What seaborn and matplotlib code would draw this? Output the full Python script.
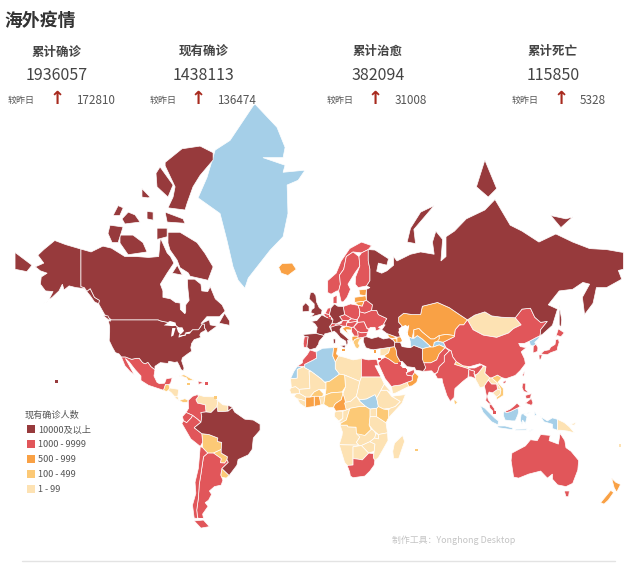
import numpy as np
import pandas as pd
import matplotlib
matplotlib.use("Agg")
import matplotlib.pyplot as plt
import seaborn as sns

sns.set_theme(style="white")
plt.rcParams['font.family'] = ['Noto Sans CJK SC', 'DejaVu Sans']

# 顶部数字
stat_titles = ['累计确诊', '现有确诊', '累计治愈', '累计死亡']
stat_values = ['1936057', '1438113', '382094', '115850']
stat_deltas = ['172810', '136474', '31008', '5328']

legend_labels = ['10000及以上', '1000 - 9999', '500 - 999', '100 - 499', '1 - 99']
tier_colors = ['#973a3c', '#e1565a', '#f9a145', '#fcc976', '#fde2b3']
nodata_color = '#a5cfe8'

# 国家轮廓 (经度,纬度)
dark_shapes = {
    'usa': "-124.7,48.4 -123,49 -95.2,49 -94.6,48.7 -92,48.3 -89.6,48 -88.4,48.3 -84.9,46.9 -84.5,46.5 -83.6,46.1 -82.5,45.3 -82.1,43.6 -83,42.2 -79,42.8 -79,43.3 -76.8,43.6 -75,45 -71.5,45 -70.3,46.2 -69.2,47.4 -68,47.3 -67.8,45.7 -67,44.9 -70,43.7 -70.7,42.7 -70,41.7 -74,40.7 -75.5,39 -76,37 -75.5,35.3 -78,33.9 -81,32 -81.4,30.5 -80,26.8 -80.4,25.2 -81.8,26 -82.8,28 -84,30 -85.5,29.7 -89,30.3 -89.5,29.2 -91,29.3 -94,29.6 -97.2,27.7 -97.2,25.9 -99.5,27.5 -101.4,29.8 -103,29 -104.5,29.6 -106.5,31.8 -108.2,31.8 -111,31.3 -114.8,32.5 -117.1,32.5 -118.5,34 -120.6,34.6 -122.4,37.2 -124.3,40.3 -124,44 -124,46.3",
    'alaska': "-141,69.6 -141,60.3 -139,60 -137.5,58.9 -135.5,59.7 -133,57 -130,56 -130.5,54.8 -133,55.5 -135.5,57.5 -139,59.7 -144,60 -148,60.5 -151,59.3 -152,61 -154,59 -158,57 -163,54.8 -160,56.2 -157.5,58.8 -162,59 -165,61 -164.5,63 -161,64 -165,64.6 -168,65.6 -163,66.5 -166.5,68.3 -163,69.5 -156.5,71.3 -150,70.5",
    'canada': "-141,69.6 -135,69 -128,70.2 -123,69.8 -115,68 -108,68 -101,67.8 -95,68 -94,71.8 -90,68.8 -88,68 -86,66.5 -90,64 -94,61 -92.5,59 -92.5,57 -88,56.5 -85,55.3 -82.3,55.1 -82.2,52.9 -79.5,51.3 -79,52 -79,54.5 -77,56 -77.8,60 -78,62.4 -73.7,62.4 -70,61 -69.5,59 -66,58.8 -64.5,60.3 -61.5,56.5 -57.5,54.5 -55.7,52.3 -59,50.2 -66.5,50.2 -70,47.5 -65,49 -64.5,47 -60.5,46.5 -66,43.7 -67,44.9 -67.8,45.7 -68,47.3 -69.2,47.4 -70.3,46.2 -71.5,45 -75,45 -76.8,43.6 -79,43.3 -79,42.8 -83,42.2 -82.1,43.6 -82.5,45.3 -83.6,46.1 -84.5,46.5 -84.9,46.9 -88.4,48.3 -89.6,48 -92,48.3 -94.6,48.7 -95.2,49 -123,49 -127,51 -130.5,54.8 -130,56 -133,57 -135.5,59.7 -137.5,58.9 -139,60 -141,60.3",
    'baffin': "-89.5,72.8 -82.4,72.8 -72.3,70.9 -67.6,68.7 -62.8,65.6 -65.8,62.1 -76.4,63.2 -77.6,64.1 -82.4,65.4 -84.1,67.2 -88.3,69.4 -89.5,70.8",
    'victoria': "-117.9,72.3 -110.2,72.3 -104.3,70.9 -101.9,69 -113.1,68.4 -117.9,70.8",
    'banks': "-123.8,74 -116.1,73.7 -119,70.9 -122.6,70.9 -125,72.6",
    'melville': "-116.7,75 -113,76 -109,75.6 -106,74.5 -115,74.2",
    'patrick': "-122,75.5 -119,76.9 -116,76.6 -118,75.5",
    'ellesmere': "-91.2,81.6 -81.2,82.7 -70.5,82.9 -62.8,82.4 -62.8,81.8 -70.5,80.4 -74.7,79.2 -78.2,77.2 -79.4,76.3 -89.5,76.6 -86.5,78 -85.3,79.2 -91.2,81.3",
    'axel': "-94.2,81.2 -86.5,79.4 -89.5,78 -96,79.2 -96.6,80.6",
    'devon': "-91.2,76 -80.6,75 -79.4,74.3 -90,74.5",
    'amund': "-104.9,79 -100.1,78 -101.3,77.9 -104.9,78",
    'bathurst': "-101.9,76.1 -98.3,76 -98.3,74.8 -101.9,75",
    'somerset': "-96,73.5 -90,73.5 -90,72 -96,71.5",
    'southampton': "-87,64 -81,63.5 -84,66",
    'newfoundland': "-59.3,47.7 -53,46.8 -53,48.5 -56,51.5",
    'vancouver': "-128,50.7 -123.5,48.4 -125,50.5",
    'russia': "28,59.5 30,60 28,60.5 30,62 30,65 29,67 29,69.5 33,69.4 41,67.5 40,66 35,66.5 34,64.5 37,64 40,64.6 44,66 44,68 46,67 54,68.5 60,69 68,68.5 67,71 69,73 73,71.5 72,67 75,68 75,72 80,73 87,75 98,76.3 104,77.7 113,74 120,73 130,71 140,72.5 150,71 160,69.7 170,69.5 178,69 180,68.9 180,65 177,64.7 179,62.4 170,60 164,60 163,57.5 162,55 157,51 155.7,57 160,61 156,61.5 150,59.5 142,59 135.5,54.5 141,53 138,46.8 132,43 130.7,42.5 131,45 135,48.4 131,48 127.5,50 125,53.3 120,53 116,49.8 108,50 102,50.5 98,52 92,50.8 87.7,49 83,51 77,53.5 70,55.3 61,54 60,51 55,51 50,51.5 47,50 47,48 49,46.5 48,45.5 47,44 48,42 46,41.8 40,43.4 37,45 39,47 38,47.1 40,49.5 35,51 34,52.5 31,52.5 31.5,54.5 28,56",
    'chukotka': "-180,68.9 -175,67.5 -170,66 -173,64.4 -180,65",
    'novaya': "52,71 57,70.7 56,73.3 68,76.9 60,76 54,73.5",
    'severnaya': "93,79.2 98,81.8 105,79 100,78",
    'newsib': "137,75.5 146,75 150,75.3 143,73.6",
    'sakhalin': "142,54.3 143.5,49 143,46 142,47 142,50",
    'turkey': "26,40 26.3,41.8 28,42 31,41.2 35,42 38,41 41.5,41.5 43.6,40.5 44.7,39.5 44.6,37.5 42,37.2 38,36.7 36,36.5 32,36 30,36.3 27.5,37",
    'iran': "44.7,39.5 48,39.5 49,37.5 54,37 56,38 61,36.5 61,31.5 63,27 61.5,25 57,25.7 56.5,27 52,27.5 49,30.3 48,30 46,33 45.5,36 44.6,37.5",
    'brazil': "-51.5,4.4 -50,1.7 -44,-2.5 -39,-3 -35,-5.5 -35,-9 -39,-13.5 -39.7,-20 -42,-23 -48,-25.5 -48.7,-28.5 -53.3,-33.7 -57.6,-30.2 -53.8,-27 -54.6,-25.6 -54.3,-24 -58,-22 -58,-20 -57.7,-16 -60.3,-15.5 -60,-13.5 -65.3,-11.5 -69.5,-11 -74,-7.5 -70,-4.3 -69.5,-1 -70,1.5 -67,1.8 -64,1.5 -60.5,5 -60,2 -57,2 -54,2.3",
    'guiana': "-54,5.7 -52,4.9 -51.5,4.4 -54,2.3",
    'france': "-4.7,48.4 -1.5,48.7 1.5,50.9 4.2,50 8.2,49 7.5,47.5 6,46.3 7.5,44 3.2,43.2 3,42.5 -1.8,43.4 -1.2,46 -2.5,47.3",
    'spain': "-9.3,43 -1.8,43.4 3,42.5 0,40 -0.5,38.5 -2,36.8 -5.5,36 -7.3,37.2 -7,39.5 -6.5,42 -8.8,42",
    'uk': "-5.5,50 1.3,51.2 1.7,52.7 0,53.5 -1.6,55.5 -2,57.6 -3.5,58.6 -5.2,58.5 -6,56.5 -3,54.8 -3,53.4 -4.5,52.8 -5,51.7 -3,51.3",
    'ireland': "-10,52 -6,52.2 -6,54 -8,55.2 -10,54",
    'germany': "6,51 7,53.5 9,54.8 11,54 14.2,53.9 15,51 12,50.3 13.8,48.7 10,47.4 7.5,47.5 8.2,49",
    'italy': "7.5,44 6.8,46 10,46.8 12,47 13.7,46.5 12.3,45.2 12.5,44 16,41.8 18.5,40 16.8,40.5 17,39 16,38 15.7,40 12.5,41.5 10.3,43.5 8.8,44.4",
    'sicily': "12.5,38 15.6,38.2 15,36.7",
    'sardinia': "8.2,41 9.7,41 9.5,39.1 8.5,39",
}
red_shapes = {
    'china': "73.5,39.5 80,42 80.5,45 83,47 85.5,47 87.7,49 91,45 97,42.7 105,41.7 112,43.6 115,45.5 119.5,47 116,49.8 120,53 125,53.3 127.5,50 131,48 135,48.4 131,45 130.7,42.5 128,41.5 124.3,40 121.5,39 118,39 119,37.5 122.5,37 119.5,35 121.5,31.5 122,29 119,25.5 116,22.8 110.5,21 108,21.6 105.5,23 102,21.5 101,21.5 98,24 98.7,27.5 95,29 89,27.5 85,28 81,30.2 79,32.5 78,35.5 75,37",
    'hainan': "108.7,19.3 110.5,20 110.5,18.8 109,18.3",
    'taiwan': "120.2,23 121.5,25.2 121,22",
    'skorea': "126.7,37.8 128.3,38.6 129.4,37 129.2,35.2 126.5,34.4 126.6,36.7",
    'honshu': "131,34 133,35.5 136,36 137,37.3 139.5,38.5 140,40.7 141.5,41 142,39.5 141,37 140.8,35.7 137,34.6 135,33.6",
    'hokkaido': "140,42 141.5,45.4 145,43.7 143,42 141,42.5",
    'kyushu': "130,33.5 132,33.5 131,31.2 130.2,31.3",
    'saudi': "34.8,29.4 37,31.5 39,32.3 41,31.5 44.7,29.2 47,29.2 48.5,28 50,26.5 51.5,24.5 52,23 55,22.5 55,20 52,19 48,17.5 44,17 42.8,16.5 39,21 37,25",
    'uae': "51.5,24.2 56,26 56.4,24.5 55,22.5 52,23",
    'pakistan': "61,29.5 66,29.5 69.5,31 71,34 74.5,37 77,35.5 74,33 74,30 71,27.5 70,24.5 68,23.7 66.5,25.3 61.5,25 63,27",
    'india': "74,33 77,35.5 78,35.5 79,32.5 81,30.2 80,28.7 88,26.5 89,26.8 92,26.8 96,28.5 97,27.5 94,24 92.5,23 91.5,24 92,25 88.5,26 88,21.6 87,21 85,19.5 80.3,15.5 80,13 79.8,10.3 77.5,8 75.5,11.5 73,19 72.7,21 70,21 68.5,23.5 70,24.5 71,27.5 74,30",
    'bangladesh': "88.5,26 92,25 91.5,24 92.5,21 90,22 88.5,22",
    'thailand': "97.7,17 100,20.2 102,18 105,18 105.5,15 102.5,13 100.5,13.5 99.5,11 100,9 102,6 100.5,6.6 98.5,8.5 99,11",
    'malaya': "100.5,6.6 102,6 103.5,4 104.3,1.5 103,2 101,4",
    'sabah': "109.6,2 111,1.5 113,2 115,3 117.5,4.2 119,5.2 117,7 115.5,5.5 113,3.5 111.3,2.7",
    'luzon': "120.3,18.5 122.2,18.5 122,15 124,13 121,13.8 120,16",
    'mindanao': "122,7 125.5,9.8 126.5,7 125.5,5.7",
    'visayas': "122,11.5 125.5,12.5 125,10 122.5,9.5",
    'morocco': "-13,27.7 -8.7,27.7 -8.7,28.7 -3.5,31 -1.5,32 -1.9,35 -5.5,35.9 -7,33.8 -9.8,31 -10,29.5",
    'egypt': "25,31.7 29,31 34,31.3 35,28 33,28 36.5,22 25,22",
    'southafrica': "16.5,-28.6 20,-28.4 20,-25 23,-25.3 25.5,-25.7 29.3,-22 32,-22.3 32,-24.5 32.9,-26 32.5,-28.5 30,-31.5 27,-34 20,-34.8 18.4,-34 18,-32",
    'australia': "114,-22 113.5,-26 115,-34.5 118,-35 124,-33 131,-31.5 135,-35 138,-33 138,-35.5 141,-38.2 146,-39 150,-37.5 153,-31 153.5,-26 149,-21 146,-19 145.3,-15 142.5,-10.8 141.5,-17 136,-15 136.7,-12 131,-11.5 129,-15 125,-14.5 122,-18",
    'tasmania': "145,-41 148,-41 147.5,-43.5 146,-43.5",
    'mexico': "-117.1,32.5 -114.8,32.5 -111,31.3 -108.2,31.8 -106.5,31.8 -104.5,29.6 -103,29 -101.4,29.8 -99.5,27.5 -97.2,25.9 -97.8,22.5 -96,19 -94.5,18.2 -91.5,18.5 -90.5,21 -87,21.5 -88,18.3 -89,17.8 -91,17.8 -92.2,14.5 -96,15.7 -101,17.3 -105.5,20 -105.5,22.5 -109,26 -112.5,30 -114.7,31.7 -113,29 -110,24 -109.5,23 -112,25 -115,28",
    'dominican': "-71.7,19.8 -68.4,18.7 -71.5,17.8",
    'colombia': "-77.5,8.6 -75,11 -72,12 -71.5,11 -73,9 -72,7 -67.5,6 -67,1.8 -70,1.5 -69.5,-1 -70,-4.3 -72,-2.5 -75,-0.2 -78.8,1.5 -77.3,4",
    'ecuador': "-78.8,1.5 -75,-0.2 -75.5,-1.5 -78.5,-4.6 -80.3,-3.4 -81,-1",
    'peru': "-80.3,-3.4 -78.5,-4.6 -75.5,-1.5 -75,-0.2 -72,-2.5 -70,-4.3 -74,-7.5 -69.5,-11 -69,-16 -70.4,-18.3 -76,-14 -81.3,-5",
    'argentina': "-66,-22 -62.6,-22 -58,-25 -58.5,-27.2 -56,-27.4 -54.6,-25.6 -53.8,-27 -57.6,-30.2 -58.3,-33.5 -57,-36 -58,-38.3 -62,-39 -65,-41 -63.7,-42.5 -65.5,-45 -67.5,-46 -65.8,-47.5 -69,-50.5 -68.4,-52.3 -72,-52 -72.5,-49 -71.5,-44 -71,-38 -70,-33 -68.5,-24",
    'chile': "-70.4,-18.3 -69,-19 -66,-22 -68.5,-24 -70,-33 -71,-38 -71.5,-44 -72.5,-49 -72,-52 -68.4,-52.3 -74,-52 -75,-47 -73,-42 -73.5,-37 -71.5,-30",
    'fuego': "-68.5,-52.7 -65,-55 -70,-55.5 -74,-53",
    'portugal': "-8.8,42 -6.5,42 -7,39.5 -7.3,37.2 -9,37 -9.5,38.8",
    'norway': "5,58.5 7,58 10.5,59 11.5,59 12.5,61 12,63.5 14.5,65 16,68 20,69 25,68.8 29,69.5 31,70.3 25,71 18,69.7 13,67 10,64 5,62",
    'sweden': "11.5,59 13,55.5 14.3,55.5 16.5,57 18.5,59.5 17,61 21,64 24,65.8 23.5,68 20,69 16,68 14.5,65 12,63.5 12.5,61",
    'finland': "24,65.8 21.5,63 21.3,61 23,60 28,60.5 30,62 30,65 29,67 29,69.5 25,68.8 23.5,68",
    'poland': "14.2,53.9 18.5,54.8 23,54.3 24,52.5 23.8,50.5 22.5,49 19,49.4 15,51",
    'belarus': "23.8,52 24,52.5 23,54.3 25.5,54 26.5,55.7 28,56 31.5,54.5 31,52.5 27,51.5",
    'ukraine': "22.5,49 23.8,50.5 24,52 27,51.5 31,52.5 34,52.5 35,51 40,49.5 38,47.1 35,46 36.5,45.3 33.5,44.5 33,46 30.5,46 29,45.3 28,46 26.5,48.2 23,48",
    'romania': "20.3,46.1 23,48 26.5,48.2 28.2,45.5 29.5,45 28.5,43.8 25,43.7 22.7,44.2",
    'bulgaria': "22.7,44.2 25,43.7 28.5,43.8 28,42 26.3,41.8 23,41.4",
    'serbia': "19,46 20.3,46.1 22.7,44.2 23,42.3 20.7,42.3 19.2,44",
    'hungary': "16,46.5 16.2,47.7 18,48 22,48.4 22.5,48.1 20.3,46.1 19,46",
    'slovakia': "17,48.6 19,49.4 22.5,49 22,48.4 18,48",
    'czech': "12,50.3 15,51 19,49.6 17,48.6 13.8,48.7",
    'austria': "9.6,47.3 13,47.6 13.8,48.7 17,48.6 16.2,47.7 16,46.5 13.7,46.5 12,47 10,46.8",
    'swiss': "6,46.3 7.5,47.5 9.6,47.5 10,46.8 8,46",
    'belgium': "2.5,51 3.5,51.4 6,51 6,49.6 4.2,50",
    'netherlands': "3.5,51.4 6,51 7,53.5 5,53.3",
    'denmark': "8.2,55 8.2,57 10.5,57.7 10.5,55",
}
orange_shapes = {
    'iceland': "-24,65.5 -22,66.4 -16,66.5 -13.6,65 -18.5,63.4 -22.5,64",
    'kazakhstan': "47,48 49,46.5 51,45 53,46.8 52,42.5 51,44.5 53,42 55,41.3 56,45 59,45.5 61,44 66,41 68,41 71,42.5 75,43 80,42.5 80.5,45 83,47 85.5,47 87.7,49 83,51 77,53.5 70,55.3 61,54 60,51 55,51 50,51.5 47,50",
    'uzbekistan': "56,45 59,45.5 61,44 66,41 68,41 71,42.5 71,41 73,40.8 68,39.5 67.5,37.3 65,37.3 66,37.5 61,41 58,42.5 56,41.3",
    'kyrgyz': "71,42.5 75,43 80,42.5 80,42 73.5,39.5 70,40 71,41",
    'afghanistan': "61,36.5 65,37.3 67.5,37.3 71,38.3 74.5,37 71,34 69.5,31 66,29.5 61,29.5 61,31.5",
    'iraq': "38.8,33.4 41,34.5 42,37.2 44.6,37.5 45.5,36 46,33 48,30 47,29.2 44.7,29.2 41,31.5 39,32.3",
    'oman': "52,19 55,20 55,22.5 56.4,24.5 58.8,22.4 57.7,19 55,17 53,16.7",
    'georgia': "40,43.4 46,41.8 43.6,41.2 41.5,41.5",
    'armenia': "43.6,41.2 46,41 46,39 44.7,39.5 43.6,40.5",
    'azerbaijan': "46,41.8 48,42 50,40.2 48,39.5 46,39 46,41",
    'tunisia': "8.5,37 11,37 10.2,34 11.5,33 9.5,30 8,33",
    'cameroon': "8.5,4.5 9,6 10,7 13,9 14,12.5 15,10 15.5,7.5 15,7 16,3 9.8,2.3",
    'ghana': "-3,5 1,6 0,11 -3,11",
    'ivory': "-8,4.4 -3,5 -3,11 -5.5,10.5 -8,10.5",
    'latvia': "21,55.3 21,57 24,57.2 27.5,57.5 28,56 26.5,55.7",
    'lithuania': "21,55.3 26.5,55.7 25.5,54 23,54.3",
    'estonia': "24,57.8 23.5,59.3 28,59.5 27.5,57.5",
    'croatia': "13.7,45.5 16,46.5 19,46 19.2,44.9 16,45 17.5,43 15,44.5",
    'albania': "19.4,42 20.7,42.3 23,42.3 23,41.4 21,40.8 20,39.7 19.4,40.5",
    'nz_north': "173,-35 175.5,-37 178.3,-38 176,-41.5 174.5,-39.5",
    'nz_south': "172.5,-40.7 174.2,-41.7 171,-45 168.5,-46.6 166.5,-46",
}
light_shapes = {
    'niger': "4,15 3.5,11.7 7,13 13.5,13.5 15.5,16.5 15,23 12,23.5 6,19.5 3.2,19 4,19",
    'nigeria': "2.7,6.3 3.5,11.7 7,13 13.5,13.5 14,12.5 13,9 10,7 9,6 8.5,4.5 6,4.3",
    'burkina': "-5.5,10.5 -3,11 2,11 2.5,12.5 0,15 -3,13.5",
    'drc': "12.3,-6 13,-4.7 16,-3 18,3.5 18.5,4 24,5 27.5,5 30,3.5 30,-1 29.5,-6 30.7,-8.5 27,-12 22,-11 21.8,-7.2 17,-7 16.5,-6",
    'kenya': "35,5 38,3.5 41,3 41,-1.7 39.5,-4.6 34,-1 34,3.9",
    'bolivia': "-69.5,-11 -65.3,-11.5 -60,-13.5 -60.3,-15.5 -57.7,-16 -58,-20 -62.6,-22 -66,-22 -69,-19 -69,-16",
    'paraguay': "-62.6,-22 -58,-20 -58,-22 -54.3,-24 -54.6,-25.6 -56,-27.4 -58.5,-27.2 -58,-25",
    'uruguay': "-58.3,-33.5 -57.6,-30.2 -53.3,-33.7 -55,-35 -58,-34.5",
    'guatemala': "-92.2,14.5 -91,17.8 -89,17.8 -88.5,15.8 -89.3,14.4 -90.5,13.8",
    'panama': "-83,8.5 -79.5,9.6 -77.5,8.6 -78,7.5 -80.5,7.4",
    'cuba': "-85,22 -80,23.2 -74.2,20.2 -77.5,19.9 -78.5,21.5 -82,22.5",
    'greece': "20,39.7 21,40.8 23,41.4 26.3,41.8 24,40.7 23,39 24,38 23,36.5 21.5,37",
    'nepal': "80,28.7 81,30.2 85,28 88,27.5 88,26.5",
    'vietnam': "102,21.5 105.5,23 108,21.6 105.7,19 108.9,15.5 109,11.5 105,9 105,10.5 107,12 107.5,14.5 107,16 105,19",
    'srilanka': "79.8,9.5 81.8,7.5 80.5,6 79.8,7.5",
}
pale_shapes = {
    'mongolia': "87.7,49 92,50.8 98,52 102,50.5 108,50 116,49.8 119.5,47 115,45.5 112,43.6 105,41.7 97,42.7 91,45",
    'syria': "36,36.5 38,36.7 42,37.2 41,34.5 38.8,33.4 36,33",
    'yemen': "42.8,16.5 44,17 48,17.5 52,19 53,16.7 45,12.8 43.4,12.7",
    'myanmar': "92.5,23 94,24 97,27.5 98.7,27.5 98,24 101,21.5 100,20.2 97.7,17 99,11 98,14 97.5,16.5 95,16 94,18 92.5,20.5",
    'laos': "102,21.5 105,19 107,16 107.5,14.5 105.5,15 105,18 102,18 100,20.2 101,21.5",
    'cambodia': "102.5,13 105.5,15 107.5,14.5 107,12 105,10.5",
    'libya': "9.5,30 11.5,33 15,32.3 20,31 25,31.7 25,22 24,19.5 15,23 12,23.5 9.5,26.5",
    'mauritania': "-17,21 -16.5,16 -14,16.5 -12,15 -5.5,15.5 -6,25 -4.8,25 -8.7,27 -8.7,27.7 -13,26 -13,21.3",
    'mali': "-12,15 -11.5,12.5 -8,10.5 -5.5,10.5 -3,13.5 0,15 4,15 4,19 3.2,19 1,21 -4.8,25 -6,25 -5.5,15.5",
    'chad': "15,23 24,19.5 22.5,13 22,11 18.5,8 15.5,7.5 15,10 14,12.5 15.5,16.5",
    'sudan': "24,19.5 25,22 36.5,22 38.5,18 36.5,14.5 34,10 33,12 28,9.5 24,9 22,11 22.5,13",
    'ethiopia': "34,10 36.5,14.5 40,14.5 42.8,11 48,8 45,5 42,4 38,3.5 35,5",
    'eritrea': "38.5,18 43,13 40,14.5 36.5,14.5",
    'somalia': "42,4 45,5 48,8 43,11 51,12 49,7 41,-1.7 41,3",
    'tanzania': "30,-1 34,-1 39.5,-4.6 40.4,-10.5 35,-11.5 32,-9 29.5,-6",
    'uganda': "30,3.5 34,3.9 34,-1 30,-1",
    'car': "15,7 15.5,7.5 18.5,8 22,11 24,8 27.5,5 24,5 18.5,4 16,3",
    'gabon': "9,1 9.8,2.3 14,2.2 14,-2 11.5,-3.5 9,-1",
    'congo': "11.5,-4.5 14,-2 14,2.2 16,3 18,3.5 16,-3 13,-4.7",
    'angola': "12.3,-6 16.5,-6 17,-7 21.8,-7.2 22,-11 24,-11 24,-13 22,-16 23.4,-17.6 14,-17.4 11.8,-17.3 13.5,-12 13.7,-10",
    'namibia': "11.8,-17.3 14,-17.4 23.4,-17.6 25,-17.8 20,-18.5 20,-28.4 16.5,-28.6 15,-27",
    'botswana': "20,-18.5 25,-17.8 29.3,-22 25.5,-25.7 23,-25.3 20,-25",
    'zambia': "22,-11 24,-11 27,-12 30.7,-8.5 32,-9 33.5,-11 32.8,-13.5 30,-15.6 25,-17.8 23.4,-17.6 22,-16 24,-13",
    'zimbabwe': "25,-17.8 30,-15.6 33,-17 32.5,-21 29.3,-22",
    'mozambique': "35,-11.5 40.4,-10.5 40.7,-15 35,-24.5 32.9,-26 32,-24.5 32.5,-21 33,-17 30,-15.6 32.8,-13.5 35,-14",
    'malawi': "33.5,-11 35,-11.5 35,-14 32.8,-13.5",
    'madagascar': "49.3,-12 50.5,-15.5 47,-25 44,-25 43.5,-21 44.5,-16.5",
    'senegal': "-17.5,14.7 -16.5,16 -14,16.5 -12,15 -11.5,12.5 -16.7,12.4",
    'guinea': "-15,11 -13.5,12.5 -11.5,12.5 -8,10.5 -8,8 -10.5,9 -13,9.5",
    'liberia': "-13,9.5 -10.5,9 -8,8 -8,4.4 -11.5,6.8",
    'togo_benin': "1,6 2.7,6.3 3.5,11.7 2,11 0,11",
    'venezuela': "-72,12 -71.5,11 -73,9 -72,7 -67.5,6 -67,1.8 -64,1.5 -60.5,5 -60,8.5 -62,10.7 -68,10.8",
    'guyana': "-60,8.5 -60.5,5 -60,2 -57,2 -54,2.3 -54,5.7 -57,6",
    'honduras': "-89.3,14.4 -88.5,15.8 -83.2,15 -83.7,11 -85.7,11 -87.5,13",
    'costarica': "-85.7,11 -83.7,11 -83,8.5 -85,9.8",
    'png': "141,-2.6 145,-4.5 148,-7 151,-10.5 147,-9.5 143,-9 141,-9",
    'newbritain': "148.5,-5.7 152,-4.3 151,-6",
}
nodata_shapes = {
    'greenland': "-38,85.4 -25,84.15 -20.2,82.8 -21.4,82 -33.3,82 -20.2,81.35 -21.4,80.7 -8.4,80.9 -12.5,79.9 -19,79.4 -18.5,75.8 -21.4,72 -29,69.4 -42,62.7 -44,59.8 -48,62.1 -51,65.6 -54.6,71.3 -58.7,75.8 -71.7,77.9 -66.4,80.2 -61.6,82.6 -52.8,83.3 -39.2,85.3",
    'westsahara': "-17,21 -13,21.3 -13,26 -8.7,27.7 -13,27.7 -15,25",
    'algeria': "-8.7,27.7 -8.7,27 -4.8,25 1,21 3.2,19 6,19.5 12,23.5 9.5,26.5 9.5,30 8,33 8.5,37 2,36.7 -1.9,35 -1.5,32 -3.5,31 -8.7,28.7",
    'southsudan': "24,9 28,9.5 33,12 34,10 35,5 34,3.9 30,3.5 27.5,5 24,8",
    'lesotho': "27.5,-30 29.3,-29.5 28.5,-30.7",
    'nkorea': "124.3,40 128,41.5 130.7,42.5 129.7,41 127.5,39.5 128.3,38.6 126.7,37.8 125,38",
    'turkmenistan': "53,42 55,41.3 56,41.3 58,42.5 61,41 66,37.5 65,37.3 61,36.5 56,38 54,37 53.8,40",
    'tajikistan': "68,39.5 70,40 73.5,39.5 75,37 71,38.3 67.5,37.3",
    'sumatra': "95.3,5.5 98,4 104,-2 106,-3.5 105.8,-5.9 102,-4 97,1.5",
    'java': "105.3,-6.5 110,-6.5 114.5,-7.7 114.5,-8.7 106,-7.5",
    'kalimantan': "109,1.5 109.6,2 111,1.5 113,2 115,3 117.5,4.2 118,2 117.5,0 116,-3.5 114,-3.5 110,-3 109,-0.5",
    'sulawesi': "119.5,0.5 125,1.5 121,0.3 123,-1 122,-5 120.3,-3 120,-5.5 119,-3",
    'flores': "116,-8.4 123,-8.2 122.5,-8.9 116,-9",
    'timor': "124,-10 127,-8.4 125,-8.9",
    'halmahera': "127.5,2 128.6,0 127.5,-0.5",
    'papua': "131,-1 135,-3.5 138,-1.7 141,-2.6 141,-9 138,-8 138,-5.5 133,-4",
}
# 白色的水面
lake_shapes = {
    'superior': "-92,46.8 -88,48.5 -85,47.9 -84.7,46.6 -87,46.5",
    'michigan': "-87.7,42 -86.3,42.5 -85,45.7 -87,45.7",
    'huron': "-84.5,46 -81,46 -80,44.5 -82,43 -83.5,44",
    'erie': "-83.3,41.6 -79,42.7 -79,43 -83,42.3",
    'ontario': "-79.7,43.3 -76.3,43.5 -76.3,44.2 -79,43.9",
    'caspian': "47,45.5 51,47 53,46 51,44.5 53,42 53.8,40 54,37 50,37.3 49,40 47.5,43",
}

# 小岛和小国
small_lon = [-155.5, 103.8, 6.1, 14.4, 33.0, 57.5, 178.0, -77.3, -66.5, -61.3, 50.5, 51.2, 47.7, 35.5]
small_lat = [19.6, 1.3, 49.7, 35.9, 35.0, -20.3, -17.8, 18.1, 18.2, 10.4, 26.0, 25.3, 29.3, 31.5]
small_tier = ['10000及以上', '1000 - 9999', '1000 - 9999', '500 - 999', '500 - 999', '100 - 499', '1 - 99',
              '100 - 499', '1000 - 9999', '100 - 499', '1000 - 9999', '1000 - 9999', '1000 - 9999', '1000 - 9999']

W, H = 640, 563


def merc(lat):
    lat = np.clip(lat, -89, 89)
    return np.log(np.tan(np.pi / 4 + np.radians(lat) / 2))


def inv_merc(y):
    return np.degrees(2 * np.arctan(np.exp(y)) - np.pi / 2)


def draw_shapes(ax, shapes, color):
    for ring in shapes.values():
        pts = np.array([p.split(',') for p in ring.split()], dtype=float)
        ax.fill(pts[:, 0], pts[:, 1], facecolor=color, edgecolor='white', linewidth=0.5, zorder=2)


fig = plt.figure(figsize=(W / 100, H / 100), dpi=100, facecolor='white')
ax = fig.add_axes([0, 0, 1, 1])
ax.set_yscale('function', functions=(merc, inv_merc))
ax.set_xlim(-188.9, 189.8)
ax.set_ylim(-65.57, 88.43)

draw_shapes(ax, nodata_shapes, nodata_color)
draw_shapes(ax, pale_shapes, tier_colors[4])
draw_shapes(ax, light_shapes, tier_colors[3])
draw_shapes(ax, orange_shapes, tier_colors[2])
draw_shapes(ax, red_shapes, tier_colors[1])
draw_shapes(ax, dark_shapes, tier_colors[0])
for ring in lake_shapes.values():
    pts = np.array([p.split(',') for p in ring.split()], dtype=float)
    ax.fill(pts[:, 0], pts[:, 1], color='white', linewidth=0, zorder=3)

small = pd.DataFrame({'lon': small_lon, 'lat': small_lat, 'tier': small_tier})
sns.scatterplot(data=small, x='lon', y='lat', hue='tier', hue_order=legend_labels,
                palette=tier_colors, marker='s', s=4, linewidth=0, ax=ax, zorder=4)
ax.set_xlim(-188.9, 189.8)
ax.set_ylim(-65.57, 88.43)
sns.move_legend(ax, 'upper left', bbox_to_anchor=(17 / W, 1 - 403 / H), title='现有确诊人数',
                frameon=False, fontsize=6.6, title_fontsize=6.6, labelspacing=0.64,
                handletextpad=0.1, borderpad=0.3, handlelength=1.4)
leg = ax.get_legend()
leg._legend_box.align = 'left'
for h in leg.legend_handles:
    h.set_markersize(5.8)
for t in leg.get_texts() + [leg.get_title()]:
    t.set_color('#555555')
ax.set_xlabel('')
ax.set_ylabel('')
ax.axis('off')

# 标题和顶部指标
fig.text(4 / W, 1 - 21 / H, '海外疫情', fontsize=12.9, fontweight='bold', color='#333333', va='center')
centers = [57, 204, 378, 553]
label_x = [8, 150, 327, 512]
arrow_x = [57, 198, 375, 561]
delta_x = [76, 217, 395, 580]
for i in range(4):
    fig.text(centers[i] / W, 1 - 52 / H, stat_titles[i], fontsize=9, fontweight='bold', color='#444444', ha='center', va='center')
    fig.text(centers[i] / W, 1 - 75 / H, stat_values[i], fontsize=11.5, color='#444444', ha='center', va='center')
    fig.text(label_x[i] / W, 1 - 100 / H, '较昨日', fontsize=6.5, color='#555555', va='center')
    fig.text(arrow_x[i] / W, 1 - 99 / H, '↑', fontsize=13, fontweight='bold', color='#a82a1e', ha='center', va='center',
             family='DejaVu Sans')
    fig.text(delta_x[i] / W, 1 - 100 / H, stat_deltas[i], fontsize=8.4, color='#555555', va='center')

fig.text(454 / W, 1 - 540 / H, '制作工具：Yonghong Desktop', fontsize=6.4, color='#c4c4c4', ha='center', va='center')
fig.add_artist(plt.Line2D([22 / W, 615 / W], [1 - 561 / H, 1 - 561 / H], color='#e3e3e3', linewidth=1))

fig.savefig('out.png', dpi=100)
